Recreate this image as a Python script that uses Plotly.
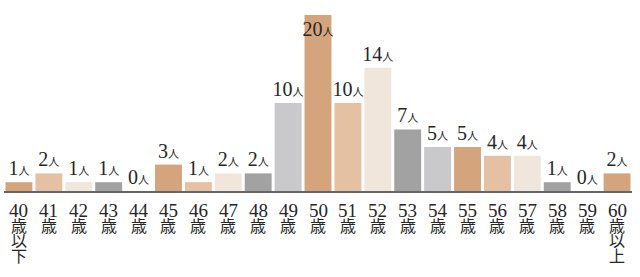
import plotly.graph_objects as go

ages = ["40", "41", "42", "43", "44", "45", "46", "47", "48", "49", "50",
        "51", "52", "53", "54", "55", "56", "57", "58", "59", "60"]
suffixes = ["歳以下"] + ["歳"] * 19 + ["歳以上"]
counts = [1, 2, 1, 1, 0, 3, 1, 2, 2, 10, 20, 10, 14, 7, 5, 5, 4, 4, 1, 0, 2]
palette = ["#d4a47c", "#e3c1a2", "#f1e6dc", "#a2a2a2", "#c9c9cb"]

SERIF = "Liberation Serif, Noto Sans CJK JP, serif"
INK = "#262626"
colors = [palette[i % len(palette)] for i in range(len(ages))]
labels = [f"{c}<span style='font-size:11px'>人</span>" for c in counts]
ymax = max(counts)
positions = ["inside" if c == ymax else "outside" for c in counts]

fig = go.Figure()
fig.add_trace(go.Bar(
    x=ages, y=counts, marker=dict(color=colors, line=dict(width=0)),
    text=labels, textposition=positions, insidetextanchor="end",
    textfont=dict(family=SERIF, size=20, color=INK),
    insidetextfont=dict(family=SERIF, size=20, color=INK),
    outsidetextfont=dict(family=SERIF, size=20, color=INK),
    cliponaxis=False, constraintext="none", textangle=0,
))

row_shift = [19, 35.5, 50.5, 65.5]
annotations = []
for k, (a, s) in enumerate(zip(ages, suffixes)):
    rows = [a] + list(s)
    for i, r in enumerate(rows):
        annotations.append(dict(
            x=k, xref="x", y=0, yref="paper", yanchor="middle",
            yshift=-row_shift[i], text=r, showarrow=False, borderpad=0,
            font=dict(family=SERIF, size=19 if i == 0 else 16, color=INK),
        ))
fig.update_layout(
    width=640, height=277, margin=dict(l=3.5, r=7.5, t=15, b=86.3),
    paper_bgcolor="white", plot_bgcolor="white", bargap=0.1,
    showlegend=False, annotations=annotations,
    xaxis=dict(type="category", range=[-0.5, len(ages) - 0.5], showticklabels=False,
               showgrid=False, zeroline=False,
               showline=True, linecolor="#666666", linewidth=2, ticks=""),
    yaxis=dict(range=[0, ymax], visible=False, showgrid=False, zeroline=False),
)
fig.write_html("out.html")
